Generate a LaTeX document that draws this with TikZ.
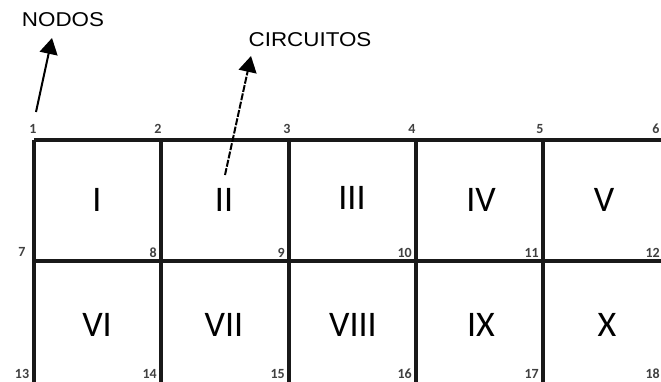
\documentclass[tikz,border=0pt]{standalone}
\usepackage{fontspec}
\setmainfont{Carlito}
\newfontfamily\arialf[FakeStretch=1.12]{Liberation Sans}
\usetikzlibrary{arrows.meta}
\begin{document}
\begin{tikzpicture}[x=1pt,y=-1pt,
  gridline/.style={line width=3.2pt,black!90},
  roman/.style={font=\fontsize{36}{38}\selectfont,inner sep=0pt},
  num/.style={font=\bfseries\fontsize{14}{15}\selectfont,inner sep=0pt,text=black!75},
  numr/.style={num,anchor=east},
  lbl/.style={font=\arialf\fontsize{20}{22}\selectfont,inner sep=0pt},
  pointer/.style={line width=2pt,-{Triangle[width=18pt,length=16pt]}}]
\useasboundingbox (0,0) rectangle (661,381);
\clip (0,0) rectangle (661,381);
% grid
\foreach \x in {34,161,289,416,543,670} \draw[gridline] (\x,140) -- (\x,390);
\foreach \y in {140,261} \draw[gridline] (34,\y) -- (680,\y);
% roman numerals
\node[roman] (c1) at (97,200) {I};
\node[roman] (c2) at (224,200) {II};
\node[roman] (c3) at (352,198) {III};
\node[roman] (c4) at (481,200) {IV};
\node[roman] (c5) at (604,200) {V};
\node[roman] (c6) at (97,325) {VI};
\node[roman] (c7) at (224,325) {VII};
\node[roman] (c8) at (353,325) {VIII};
\node[roman] (c9) at (481,325) {IX};
\node[roman] (c10) at (607,325) {X};
% node numbers
\node[num] (n1) at (33,129) {1};
\node[num] (n2) at (158,129) {2};
\node[num] (n3) at (287,129) {3};
\node[num] (n4) at (412,129) {4};
\node[num] (n5) at (540,129) {5};
\node[num] (n6) at (656,129) {6};
\node[num] (n7) at (22,252) {7};
\node[numr] (n8) at (157,253) {8};
\node[numr] (n9) at (285,253) {9};
\node[numr] (n10) at (412,253) {10};
\node[numr] (n11) at (539,253) {11};
\node[numr] (n12) at (660,253) {12};
\node[num] (n13) at (22,374) {13};
\node[numr] (n14) at (157,374) {14};
\node[numr] (n15) at (285,374) {15};
\node[numr] (n16) at (412,374) {16};
\node[numr] (n17) at (539,374) {17};
\node[numr] (n18) at (660,374) {18};
% labels
\node[lbl] (nodos) at (63,20) {NODOS};
\node[lbl] (circ) at (310,40) {CIRCUITOS};
\coordinate (a1) at (36,112);
\coordinate (t1) at (52,38);
\coordinate (a2) at (225,175);
\coordinate (t2) at (251,56);
\draw[pointer] (a1) -- (t1);
\draw[pointer,dash pattern=on 7pt off 1.5pt] (a2) -- (t2);
\end{tikzpicture}
\end{document}
